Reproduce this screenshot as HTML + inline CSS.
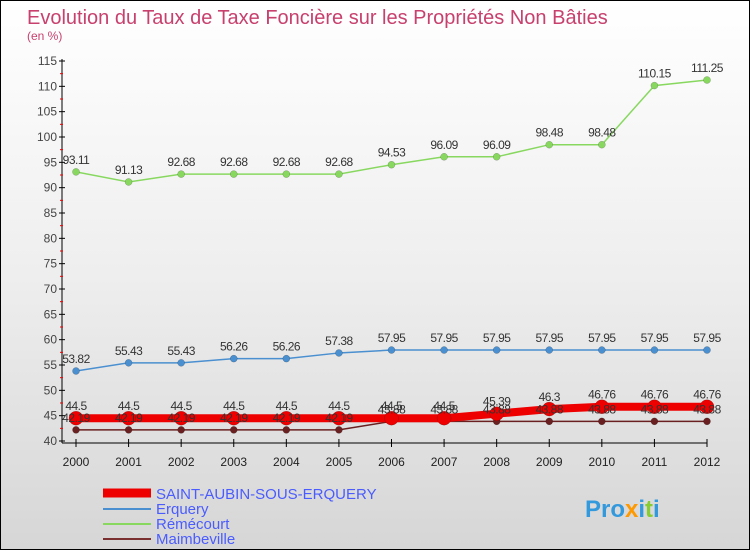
<!DOCTYPE html>
<html><head><meta charset="utf-8"><style>
body{margin:0}
#wrap{position:relative;width:748px;height:548px;border:1px solid #000;background:linear-gradient(#ffffff 0%,#eeeeee 50%,#d6d6d6 100%);font-family:"Liberation Sans",sans-serif;overflow:hidden}
</style></head><body>
<div id="wrap">
<svg id="chart" width="748" height="548" xmlns="http://www.w3.org/2000/svg">
<text x="26" y="23" font-size="20" fill="#c8406e">Evolution du Taux de Taxe Foncière sur les Propriétés Non Bâties</text>
<text x="26" y="39" font-size="12" fill="#c8406e">(en %)</text>
<g id="axes"></g><g id="series"></g><g id="labels"></g>
<g>
<line x1="102" y1="492" x2="150" y2="492" stroke="#ee0000" stroke-width="9"/>
<text x="155" y="498" font-size="15" fill="#4a5cff">SAINT-AUBIN-SOUS-ERQUERY</text>
<line x1="102" y1="508" x2="150" y2="508" stroke="#4a8fd0" stroke-width="2"/>
<text x="155" y="513" font-size="15" fill="#4a5cff">Erquery</text>
<line x1="102" y1="523" x2="150" y2="523" stroke="#88d860" stroke-width="2"/>
<text x="155" y="528" font-size="15" fill="#4a5cff">Rémécourt</text>
<line x1="102" y1="538" x2="150" y2="538" stroke="#7a3030" stroke-width="2"/>
<text x="155" y="543" font-size="15" fill="#4a5cff">Maimbeville</text>
</g>
<text x="584" y="516" font-size="24" font-weight="bold" fill="#3399dd">Pro<tspan fill="#ff9900">x</tspan>i<tspan fill="#88cc33">t</tspan>i</text>
</svg>
</div>
<script>
const years=[2000,2001,2002,2003,2004,2005,2006,2007,2008,2009,2010,2011,2012];
const saintAubin=[44.5,44.5,44.5,44.5,44.5,44.5,44.5,44.5,45.39,46.3,46.76,46.76,46.76];
const erquery=[53.82,55.43,55.43,56.26,56.26,57.38,57.95,57.95,57.95,57.95,57.95,57.95,57.95];
const remecourt=[93.11,91.13,92.68,92.68,92.68,92.68,94.53,96.09,96.09,98.48,98.48,110.15,111.25];
const maimbeville=[42.19,42.19,42.19,42.19,42.19,42.19,43.88,43.88,43.88,43.88,43.88,43.88,43.88];
const yTicks=[40,45,50,55,60,65,70,75,80,85,90,95,100,105,110,115];
const NS="http://www.w3.org/2000/svg";
const x=i=>75+i*(706-75)/(years.length-1);
const y=v=>440-(v-40)*(380/75);
function mk(tag,attrs,parent){const e=document.createElementNS(NS,tag);for(const k in attrs)e.setAttribute(k,attrs[k]);parent.appendChild(e);return e;}
const axes=document.getElementById('axes'),ser=document.getElementById('series'),lab=document.getElementById('labels');
let l=mk('line',{x1:61,y1:58,x2:61,y2:442,stroke:'#000'},axes);


l=mk('line',{x1:61,y1:442,x2:706,y2:442,stroke:'#000'},axes);


yTicks.forEach(t=>{
 mk('line',{x1:58,y1:y(t),x2:64,y2:y(t),stroke:'#000'},axes);
 if(t<115) mk('line',{x1:59,y1:y(t+2.5),x2:62,y2:y(t+2.5),stroke:'#e00'},axes);
 const tx=mk('text',{x:56,y:y(t)+4,'font-size':12,'text-anchor':'end',fill:'#444'},axes);
 tx.textContent=t;
 
 
});
years.forEach((yr,i)=>{
 mk('line',{x1:x(i),y1:438,x2:x(i),y2:446,stroke:'#000'},axes);
 const tx=mk('text',{x:x(i),y:465,'font-size':12,'text-anchor':'middle',fill:'#222'},axes);
 tx.textContent=yr;
 
 
});
function draw(data,name,color,w,r){
 const g=mk('g',{},ser);
 
 
 const p=mk('polyline',{points:data.map((v,i)=>x(i)+','+y(v)).join(' '),fill:'none',stroke:color,'stroke-width':w},g);
 
 
 data.forEach((v,i)=>{
  const c=mk('circle',{cx:x(i),cy:y(v),r:r,fill:color,stroke:'rgba(0,0,0,0.3)','stroke-width':0.5},g);
  
  
  const t=mk('text',{x:x(i),y:y(v)-8,'font-size':12,'text-anchor':'middle',fill:'#333','letter-spacing':'-0.5'},lab);
  t.textContent=v;
  
  
 });
}
draw(remecourt,'remecourt','#88d860',1.5,3.5);
draw(erquery,'erquery','#4a8fd0',1.5,3.5);
draw(maimbeville,'maimbeville','#6a2020',1.5,3.5);
draw(saintAubin,'saint-aubin','#ee0000',8,7);
</script>
</body></html>
